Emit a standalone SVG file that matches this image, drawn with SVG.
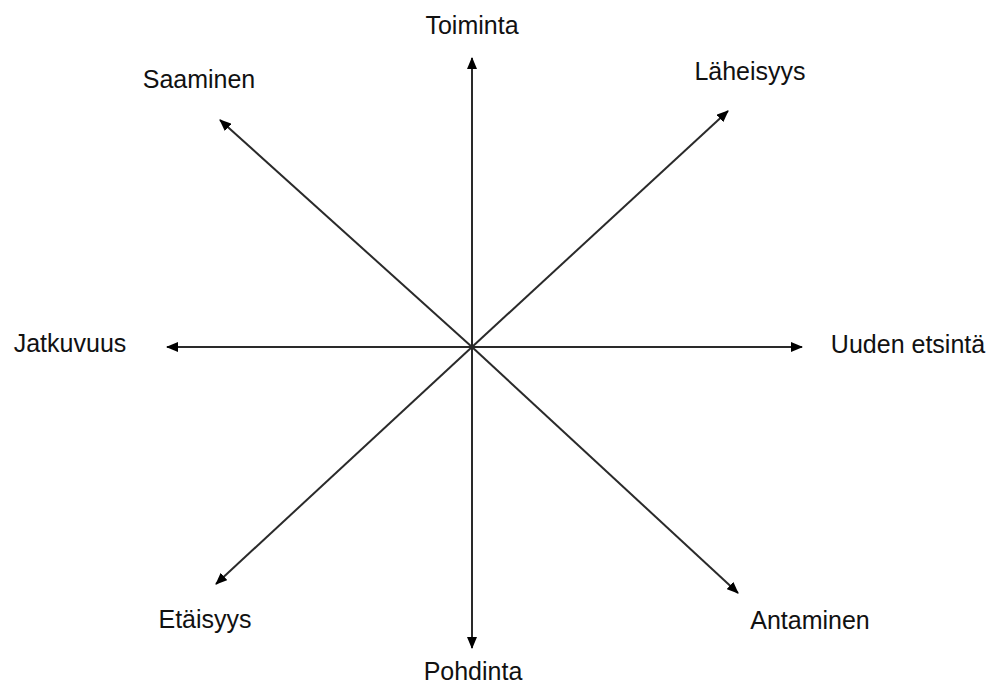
<svg xmlns="http://www.w3.org/2000/svg" width="994" height="686" viewBox="0 0 994 686">
<style>
.lbl{font-family:"Liberation Sans",Arial,sans-serif;font-size:25px;fill:#111;text-anchor:middle}
.ax{stroke:#2a2a2a;stroke-width:2;fill:none;marker-end:url(#ah)}
</style>
<defs>
<marker id="ah" viewBox="0 0 12 10" refX="11" refY="5" markerWidth="12" markerHeight="10" markerUnits="userSpaceOnUse" orient="auto">
<path d="M0,0 L12,5 L0,10 Z" fill="#000"/>
</marker>
</defs>
<rect width="994" height="686" fill="#fff"/>
<g id="connectors">
<line class="ax" x1="472" y1="347" x2="472" y2="58"/>
<line class="ax" x1="472" y1="347" x2="472" y2="648"/>
<line class="ax" x1="472" y1="347" x2="167" y2="347"/>
<line class="ax" x1="472" y1="347" x2="802" y2="347"/>
<line class="ax" x1="472" y1="347" x2="220" y2="120"/>
<line class="ax" x1="472" y1="347" x2="728" y2="111"/>
<line class="ax" x1="472" y1="347" x2="216" y2="584"/>
<line class="ax" x1="472" y1="347" x2="738" y2="593"/>
</g>
<g id="toiminta"><text class="lbl" x="472" y="34">Toiminta</text></g>
<g id="saaminen"><text class="lbl" x="199" y="88">Saaminen</text></g>
<g id="laheisyys"><text class="lbl" x="750" y="80">Läheisyys</text></g>
<g id="jatkuvuus"><text class="lbl" x="70" y="352">Jatkuvuus</text></g>
<g id="uuden-etsinta"><text class="lbl" x="908" y="353">Uuden etsintä</text></g>
<g id="etaisyys"><text class="lbl" x="205" y="628">Etäisyys</text></g>
<g id="antaminen"><text class="lbl" x="810" y="629">Antaminen</text></g>
<g id="pohdinta"><text class="lbl" x="473" y="680">Pohdinta</text></g>
</svg>
